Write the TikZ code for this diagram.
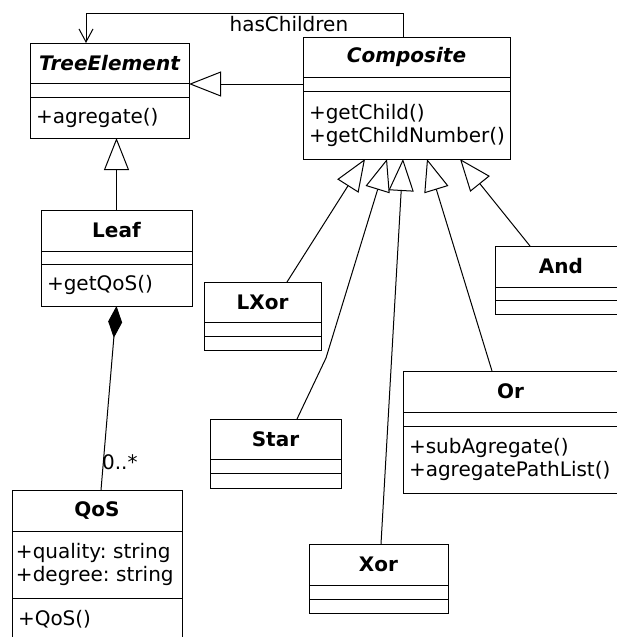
\documentclass[tikz,border=0pt]{standalone}
\usepackage{fontspec}
\setmainfont{DejaVu Sans}[ItalicFont={DejaVu Sans Oblique},BoldItalicFont={DejaVu Sans Bold Oblique}]
\usetikzlibrary{positioning,arrows.meta,calc}
\newcommand{\umlfont}{\fontsize{20}{23}\selectfont}
\frenchspacing

\begin{document}
\begin{tikzpicture}[x=1pt,y=-1pt,font=\umlfont,line width=1pt,
        cls/.style = {draw, rectangle, inner xsep=6pt, inner ysep=0pt, outer sep=0pt, align=center},
        ops/.style = {cls, align=left},
        head/.style = {cls, font=\umlfont\bfseries},
        abstract/.style = {cls, font=\umlfont\bfseries\itshape},
        inherit/.style = {-{Triangle[open,length=32pt,width=25pt]}},
        assoc/.style = {-{Straight Barb[length=13pt,width=14pt]}},
        owns/.style = {{Diamond[length=32pt,width=14pt]}-}]
        \useasboundingbox (0,0) rectangle (616,637);

        \node[abstract, text width=147pt, minimum height=40pt, anchor=north west] (tree) at (30,43) {TreeElement};
        \node[cls, text width=147pt, minimum height=14pt, below=0pt of tree] (treeA) {};
        \node[ops, text width=147pt, minimum height=41pt, below=0pt of treeA] (treeO) {+agregate()};

        \node[abstract, text width=195pt, minimum height=40pt, anchor=north west] (comp) at (303,37) {Composite};
        \node[cls, text width=195pt, minimum height=14pt, below=0pt of comp] (compA) {};
        \node[ops, text width=195pt, minimum height=68pt, below=0pt of compA] (compO) {+getChild()\\+getChildNumber()};

        \node[head, text width=139pt, minimum height=41pt, anchor=north west] (leaf) at (41,210) {Leaf};
        \node[cls, text width=139pt, minimum height=13pt, below=0pt of leaf] (leafA) {};
        \node[ops, text width=139pt, minimum height=42pt, below=0pt of leafA] (leafO) {+getQoS()};

        \node[head, text width=158pt, minimum height=41pt, anchor=north west] (qos) at (12,490) {QoS};
        \node[ops, inner xsep=4pt, text width=162pt, minimum height=67pt, below=0pt of qos] (qosA) {+quality: string\\+degree: string};
        \node[ops, text width=158pt, minimum height=42pt, below=0pt of qosA] (qosO) {+QoS()};

        \node[head, text width=105pt, minimum height=40pt, anchor=north west] (lxor) at (204,282) {LXor};
        \node[cls, text width=105pt, minimum height=14pt, below=0pt of lxor] (lxorA) {};
        \node[cls, text width=105pt, minimum height=14pt, below=0pt of lxorA] (lxorO) {};

        \node[head, text width=120pt, minimum height=41pt, anchor=north west] (and) at (495,246) {And};
        \node[cls, text width=120pt, minimum height=13pt, below=0pt of and] (andA) {};
        \node[cls, text width=120pt, minimum height=14pt, below=0pt of andA] (andO) {};

        \node[head, text width=119pt, minimum height=40pt, anchor=north west] (star) at (210,419) {Star};
        \node[cls, text width=119pt, minimum height=14pt, below=0pt of star] (starA) {};
        \node[cls, text width=119pt, minimum height=15pt, below=0pt of starA] (starO) {};

        \node[head, text width=127pt, minimum height=41pt, anchor=north west] (xor) at (309,544) {Xor};
        \node[cls, text width=127pt, minimum height=14pt, below=0pt of xor] (xorA) {};
        \node[cls, text width=127pt, minimum height=14pt, below=0pt of xorA] (xorO) {};

        \node[head, text width=203pt, minimum height=41pt, anchor=north west] (or) at (403,371) {Or};
        \node[cls, text width=203pt, minimum height=14pt, below=0pt of or] (orA) {};
        \node[ops, text width=203pt, minimum height=67pt, below=0pt of orA] (orO) {+subAgregate()\\+agregatePathList()};

        \coordinate (hc1) at (403,13);
        \coordinate (hc2) at (86,13);
        \draw[assoc] (hc1 |- comp.north) -- (hc1) -- node[below, pos=0.36, inner sep=3pt] {hasChildren} (hc2) -- (hc2 |- tree.north);

        \draw[inherit] (compA.west) -- (compA.west -| tree.east);
        \draw[inherit] (leaf.north) -- (leaf.north |- treeO.south);

        \coordinate (qtop) at ($(qos.north west)+(89,0)$);
        \draw[owns] (leafO.south) -- node[pos=0.85, right, xshift=-5pt] {0..*} (qtop);

        \coordinate (c1) at ($(compO.south west)+(62,0)$);
        \coordinate (c2) at ($(compO.south west)+(84,0)$);
        \coordinate (c3) at ($(compO.south west)+(100,0)$);
        \coordinate (c4) at ($(compO.south west)+(124,0)$);
        \coordinate (c5) at ($(compO.south west)+(157,0)$);
        \draw[inherit] ($(lxor.north west)+(83,0)$) -- (c1);
        \draw[inherit] ($(star.north west)+(87,0)$) -- (326,358) -- (c2);
        \draw[inherit] ($(xor.north west)+(72,0)$) -- (c3);
        \draw[inherit] ($(or.north west)+(89,0)$) -- (c4);
        \draw[inherit] ($(and.north west)+(35,0)$) -- (c5);
\end{tikzpicture}
\end{document}
